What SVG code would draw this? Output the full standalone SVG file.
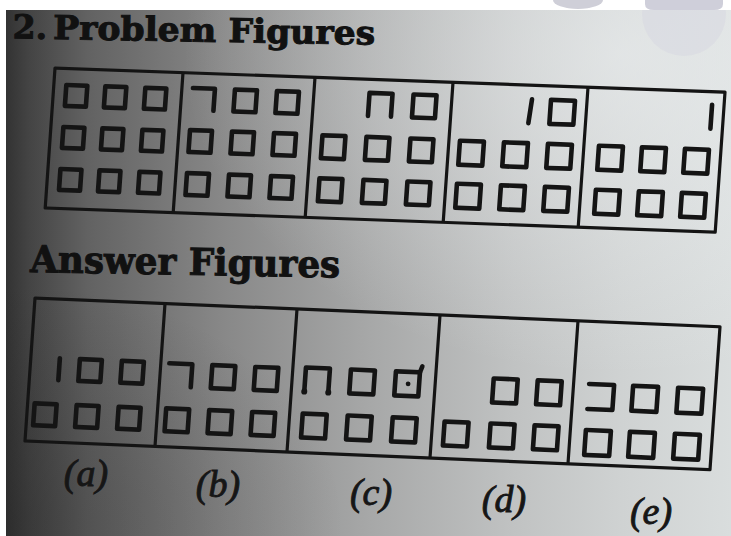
<svg xmlns="http://www.w3.org/2000/svg" width="731" height="536" viewBox="0 0 731 536">
  <defs>
    <linearGradient id="paper" x1="0" y1="0" x2="1" y2="0">
      <stop offset="0" stop-color="#2e2e2e"/>
      <stop offset="0.04" stop-color="#444444"/>
      <stop offset="0.12" stop-color="#626262"/>
      <stop offset="0.3" stop-color="#878787"/>
      <stop offset="0.5" stop-color="#a6a7a7"/>
      <stop offset="0.7" stop-color="#c0c2c2"/>
      <stop offset="0.85" stop-color="#cfd2d2"/>
      <stop offset="1" stop-color="#d9dddd"/>
    </linearGradient>
    <radialGradient id="light" cx="0.85" cy="0.1" r="0.6">
      <stop offset="0" stop-color="#eef1f2" stop-opacity="0.6"/>
      <stop offset="1" stop-color="#eef1f2" stop-opacity="0"/>
    </radialGradient>
    <radialGradient id="shade" cx="0.02" cy="0.98" r="0.45">
      <stop offset="0" stop-color="#1e1e1e" stop-opacity="0.3"/>
      <stop offset="1" stop-color="#1e1e1e" stop-opacity="0"/>
    </radialGradient>
    <style>
      .box { fill: none; stroke: #141414; stroke-width: 3.2; stroke-linejoin: round; }
      .sq { fill: none; stroke: #141414; stroke-width: 4.6; stroke-linejoin: round; stroke-linecap: round; }
      .dot { fill: #141414; }
      .title { font-family: "DejaVu Serif", "Liberation Serif", serif; font-weight: bold; fill: #111111; stroke: #111111; stroke-width: 1; }
      .lbl { font-family: "Liberation Serif", "DejaVu Serif", serif; font-style: italic; font-size: 38px; fill: #161616; stroke: #161616; stroke-width: 0.9; text-anchor: middle; }
    </style>
  </defs>

  <!-- photographed page -->
  <rect x="0" y="0" width="731" height="536" fill="url(#paper)"/>
  <rect x="0" y="0" width="731" height="536" fill="url(#light)"/>
  <rect x="0" y="0" width="731" height="536" fill="url(#shade)"/>
  <circle cx="684" cy="14" r="42" fill="#d4d4df" opacity="0.45"/>

  <!-- titles -->
  <g id="title-problem" transform="rotate(1 53 39)">
    <text class="title" x="47" y="39" font-size="33" text-anchor="end">2.</text>
    <text class="title" x="53" y="39" font-size="33" textLength="322" lengthAdjust="spacingAndGlyphs">Problem Figures</text>
  </g>
  <g id="title-answer" transform="rotate(1 30 272)">
    <text class="title" x="30" y="272" font-size="37" textLength="310" lengthAdjust="spacingAndGlyphs">Answer Figures</text>
  </g>

  <!-- Problem figures -->
  <g id="problem-figures" transform="matrix(1 0.036 -0.07 1 55 68)">
    <rect class="box" x="0" y="0" width="670" height="140"/>
    <path class="box" d="M128,0 V140 M260,0 V140 M398,0 V140 M533,0 V140"/>
    <g id="pf1">
      <rect class="sq" x="12.5" y="16.5" width="21" height="21"/>
      <rect class="sq" x="51.5" y="16.5" width="21" height="21"/>
      <rect class="sq" x="91.5" y="16.5" width="21" height="21"/>
      <rect class="sq" x="12.5" y="58.5" width="21" height="21"/>
      <rect class="sq" x="51.5" y="58.5" width="21" height="21"/>
      <rect class="sq" x="91.5" y="58.5" width="21" height="21"/>
      <rect class="sq" x="12.5" y="100.5" width="21" height="21"/>
      <rect class="sq" x="51.5" y="100.5" width="21" height="21"/>
      <rect class="sq" x="91.5" y="100.5" width="21" height="21"/>
    </g>
    <g id="pf2">
      <path class="sq" d="M139,15 H161 V37"/>
      <rect class="sq" x="181" y="15" width="22" height="22"/>
      <rect class="sq" x="223" y="15" width="22" height="22"/>
      <rect class="sq" x="139" y="57" width="22" height="22"/>
      <rect class="sq" x="181" y="57" width="22" height="22"/>
      <rect class="sq" x="223" y="57" width="22" height="22"/>
      <rect class="sq" x="139" y="100" width="22" height="22"/>
      <rect class="sq" x="181" y="100" width="22" height="22"/>
      <rect class="sq" x="223" y="100" width="22" height="22"/>
    </g>
    <g id="pf3">
      <path class="sq" d="M315.5,36.5 V13.5 H338.5 V36.5"/>
      <rect class="sq" x="359.5" y="13.5" width="23" height="23"/>
      <rect class="sq" x="271.5" y="57.5" width="23" height="23"/>
      <rect class="sq" x="315.5" y="57.5" width="23" height="23"/>
      <rect class="sq" x="359.5" y="57.5" width="23" height="23"/>
      <rect class="sq" x="271.5" y="100.5" width="23" height="23"/>
      <rect class="sq" x="315.5" y="100.5" width="23" height="23"/>
      <rect class="sq" x="359.5" y="100.5" width="23" height="23"/>
    </g>
    <g id="pf4">
      <path class="sq" d="M478,14 L476,38"/>
      <rect class="sq" x="497" y="14" width="24" height="24"/>
      <rect class="sq" x="409" y="58" width="24" height="24"/>
      <rect class="sq" x="453" y="58" width="24" height="24"/>
      <rect class="sq" x="497" y="58" width="24" height="24"/>
      <rect class="sq" x="409" y="101" width="24" height="24"/>
      <rect class="sq" x="453" y="101" width="24" height="24"/>
      <rect class="sq" x="497" y="101" width="24" height="24"/>
    </g>
    <g id="pf5">
      <path class="sq" d="M658,13 V37"/>
      <rect class="sq" x="548" y="58" width="24" height="24"/>
      <rect class="sq" x="591" y="58" width="24" height="24"/>
      <rect class="sq" x="634" y="58" width="24" height="24"/>
      <rect class="sq" x="548" y="102" width="24" height="24"/>
      <rect class="sq" x="591" y="102" width="24" height="24"/>
      <rect class="sq" x="634" y="102" width="24" height="24"/>
    </g>
  </g>

  <!-- Answer figures -->
  <g id="answer-figures" transform="matrix(1 0.042 -0.07 1 35 298)">
    <rect class="box" x="0" y="0" width="685" height="143"/>
    <path class="box" d="M130,0 V143 M262,0 V143 M405,0 V143 M543,0 V143"/>
    <g id="af-a">
      <path class="sq" d="M29,59 V81"/>
      <rect class="sq" x="49" y="59" width="22" height="22"/>
      <rect class="sq" x="91" y="59" width="22" height="22"/>
      <rect class="sq" x="7" y="105" width="22" height="22"/>
      <rect class="sq" x="49" y="105" width="22" height="22"/>
      <rect class="sq" x="91" y="105" width="22" height="22"/>
    </g>
    <g id="af-b">
      <path class="sq" d="M138.5,59.5 H161.5 V82.5"/>
      <rect class="sq" x="181.5" y="59.5" width="23" height="23"/>
      <rect class="sq" x="224.5" y="59.5" width="23" height="23"/>
      <rect class="sq" x="138.5" y="104.5" width="23" height="23"/>
      <rect class="sq" x="181.5" y="104.5" width="23" height="23"/>
      <rect class="sq" x="224.5" y="104.5" width="23" height="23"/>
    </g>
    <g id="af-c">
      <path class="sq" d="M275,82 V58 H299 V82"/>
      <circle class="dot" cx="275" cy="82" r="3"/>
      <circle class="dot" cx="299" cy="82" r="3"/>
      <rect class="sq" x="320" y="58" width="24" height="24"/>
      <rect class="sq" x="365" y="58" width="24" height="24"/>
      <path class="sq" d="M389,58 L391,52"/>
      <circle class="dot" cx="378" cy="70" r="2.4"/>
      <rect class="sq" x="275" y="104" width="24" height="24"/>
      <rect class="sq" x="320" y="104" width="24" height="24"/>
      <rect class="sq" x="365" y="104" width="24" height="24"/>
    </g>
    <g id="af-d">
      <rect class="sq" x="463" y="61" width="24" height="24"/>
      <rect class="sq" x="507" y="61" width="24" height="24"/>
      <rect class="sq" x="417" y="106" width="24" height="24"/>
      <rect class="sq" x="463" y="106" width="24" height="24"/>
      <rect class="sq" x="507" y="106" width="24" height="24"/>
    </g>
    <g id="af-e">
      <path class="sq" d="M558.5,62.5 H583.5 V87.5 H558.5"/>
      <rect class="sq" x="602.5" y="62.5" width="25" height="25"/>
      <rect class="sq" x="647.5" y="62.5" width="25" height="25"/>
      <rect class="sq" x="558.5" y="108.5" width="25" height="25"/>
      <rect class="sq" x="602.5" y="108.5" width="25" height="25"/>
      <rect class="sq" x="647.5" y="108.5" width="25" height="25"/>
    </g>
  </g>

  <!-- option labels -->
  <g id="labels">
    <text class="lbl" x="86" y="486">(a)</text>
    <text class="lbl" x="218" y="497">(b)</text>
    <text class="lbl" x="371" y="505">(c)</text>
    <text class="lbl" x="504" y="512">(d)</text>
    <text class="lbl" x="651" y="524">(e)</text>
  </g>

  <g id="connectors"/>

  <!-- scan borders -->
  <rect x="0" y="0" width="731" height="10" fill="#ffffff"/>
  <rect x="0" y="0" width="6" height="536" fill="#ffffff"/>
  <ellipse cx="578" cy="0" rx="25" ry="9" fill="#cfcfd8"/>
  <path d="M645,0 H723 V4 Q723,10 714,10 H654 Q645,10 645,4 Z" fill="#cfcfda"/>
</svg>
